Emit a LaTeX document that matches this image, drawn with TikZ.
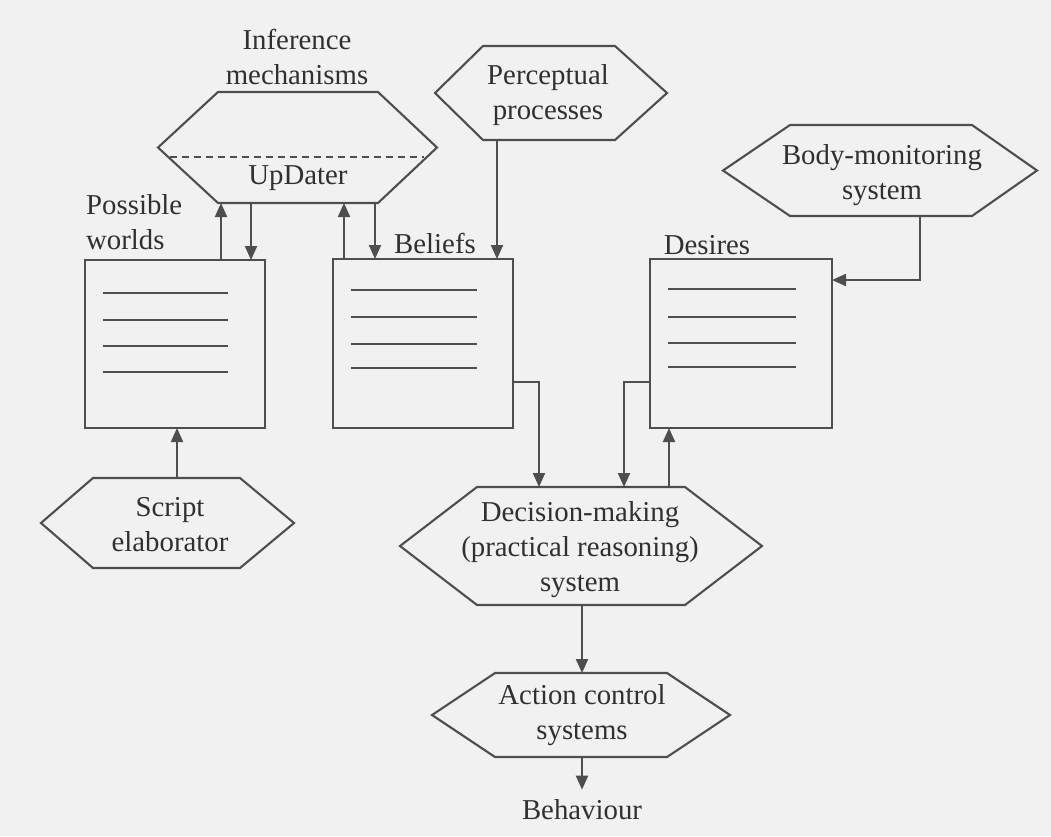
\documentclass[tikz,border=0pt]{standalone}
\usepackage{fontspec}
\setmainfont{Liberation Serif}
\usetikzlibrary{arrows.meta,calc}
\definecolor{bg}{HTML}{F1F1F1}
\definecolor{ink}{HTML}{4E4E4E}
\definecolor{txt}{HTML}{303030}
\newcommand{\hexa}[7]{%
  \node[hexbox, minimum width={(#4-#3)*1pt}, minimum height={(#7-#6)*1pt}] (#1) at ({(#3+#4)/2},{(#6+#7)/2}) {};
  \draw[ln] (#1.north west) -- (#1.north east) -- (#5,{(#6+#7)/2}) -- (#1.south east) -- (#1.south west) -- (#2,{(#6+#7)/2}) -- cycle;
}
\tikzset{
  hexbox/.style={inner sep=0pt, outer sep=0pt},
  ln/.style={draw=ink, line width=2.1pt, line join=miter},
  arr/.style={draw=ink, line width=2.1pt, -{Triangle[length=14pt,width=12pt]}},
  lbl/.style={text=txt, font=\fontsize{28.8}{35}\selectfont, align=center, inner sep=0pt},
  store/.style={draw=ink, line width=2.1pt, inner sep=0pt, outer sep=0pt},
  rule/.style={draw=ink, line width=2.5pt}
}
\begin{document}
\begin{tikzpicture}[x=1pt,y=-1pt]
\useasboundingbox (0,0) rectangle (1051,836);
\fill[bg] (0,0) rectangle (1051,836);

% hexagons
\hexa{inf}{158}{218}{378}{437}{92}{203}
\hexa{per}{435}{483}{615}{667}{46}{140}
\hexa{body}{723}{790}{972}{1037}{125}{216}
\hexa{scr}{41}{93}{240}{294}{478}{568}
\hexa{dec}{400}{477}{685}{762}{487}{605}
\hexa{act}{432}{495}{667}{730}{673}{757}
\draw[draw=ink, line width=1.8pt, dash pattern=on 7pt off 5pt] (170,157) -- (424,157);

% stores
\node[store, minimum width=180pt, minimum height=168pt] (pw) at (175,344) {};
\node[store, minimum width=180pt, minimum height=169pt] (bel) at (423,343.5) {};
\node[store, minimum width=182pt, minimum height=169pt] (des) at (741,343.5) {};
\foreach \y in {293,320,346,372} \draw[rule] (103,\y) -- (228,\y);
\foreach \y in {290,317,344,368} \draw[rule] (351,\y) -- (477,\y);
\foreach \y in {289,317,343,367} \draw[rule] (668,\y) -- (796,\y);

% labels
\node[lbl] (inft) at (297,57) {Inference\\mechanisms};
\node[lbl] (upd) at (298,178) {UpDater};
\node[lbl, align=left, anchor=west] (pwt) at (86,222) {Possible\\worlds};
\node[lbl] (belt) at (435,243) {Beliefs};
\node[lbl] (dest) at (707,245) {Desires};
\node[lbl] (pert) at (548,95) {Perceptual\\processes};
\node[lbl] (bodyt) at (882,175) {Body-monitoring\\system};
\node[lbl] (scrt) at (170,525) {Script\\elaborator};
\node[lbl] (dect) at (580,550) {Decision-making\\(practical reasoning)\\system};
\node[lbl] (actt) at (582,715) {Action control\\systems};
\node[lbl] (beh) at (582,810) {Behaviour};

% helper columns / rows
\coordinate (c1) at (221,0);
\coordinate (c2) at (251,0);
\coordinate (c3) at (344,0);
\coordinate (c4) at (375,0);
\coordinate (c5) at (497,0);
\coordinate (c6) at (920,0);
\coordinate (c7) at (177,0);
\coordinate (c8) at (539,0);
\coordinate (c9) at (624,0);
\coordinate (c10) at (669,0);
\coordinate (c11) at (582,0);
\coordinate (r1) at (0,382);
\coordinate (r2) at (0,280);

% connectors
\draw[arr] (pw.north -| c1) -- (inf.south -| c1);
\draw[arr] (inf.south -| c2) -- (pw.north -| c2);
\draw[arr] (bel.north -| c3) -- (inf.south -| c3);
\draw[arr] (inf.south -| c4) -- (bel.north -| c4);
\draw[arr] (per.south -| c5) -- (bel.north -| c5);
\draw[arr] (body.south -| c6) -- (c6 |- r2) -- (des.east |- r2);
\draw[arr] (scr.north -| c7) -- (pw.south -| c7);
\draw[arr] (bel.east |- r1) -- (c8 |- r1) -- (dec.north -| c8);
\draw[arr] (des.west |- r1) -- (c9 |- r1) -- (dec.north -| c9);
\draw[arr] (dec.north -| c10) -- (des.south -| c10);
\draw[arr] (dec.south -| c11) -- (act.north -| c11);
\draw[arr, shorten >=10pt] (act.south -| c11) -- (beh.north);
\end{tikzpicture}
\end{document}
